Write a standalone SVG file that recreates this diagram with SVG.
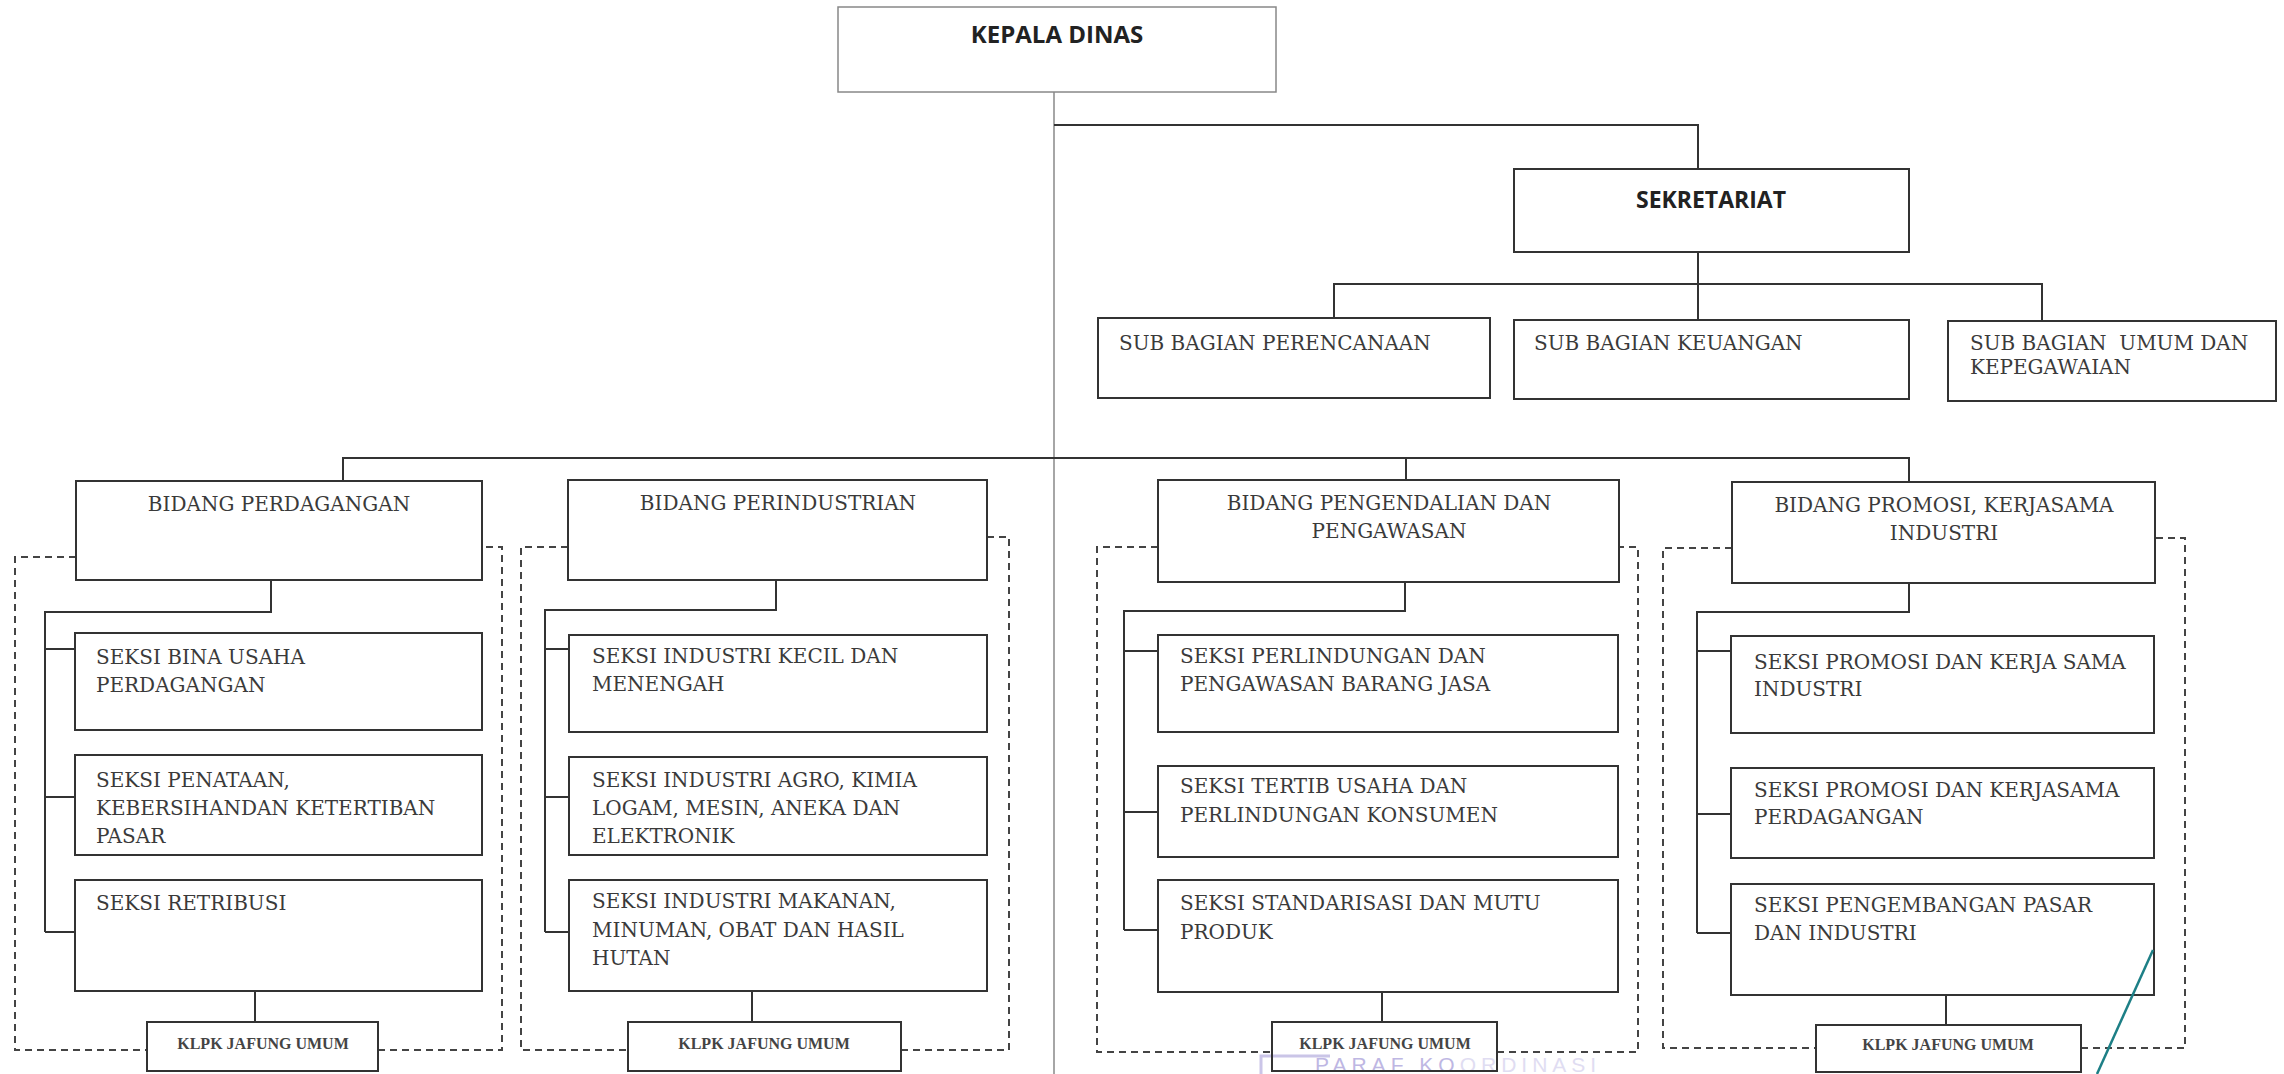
<svg xmlns="http://www.w3.org/2000/svg" width="2284" height="1074" viewBox="0 0 2284 1074">
<style>
.box{fill:#fff;stroke:#333;stroke-width:2}
.top{fill:#fff;stroke:#888;stroke-width:1.5}
.conn{fill:none;stroke:#333;stroke-width:2}
.main{fill:none;stroke:#888;stroke-width:1.5}
.dash{fill:none;stroke:#444;stroke-width:2;stroke-dasharray:7 5}
.t{font-family:"DejaVu Serif","Liberation Serif",serif;font-size:20px;fill:#3a3a3a}
.c{text-anchor:middle}
.h{font-family:"Open Sans","Liberation Sans",sans-serif;font-weight:bold;fill:#222;text-anchor:middle}
.k{font-family:"Liberation Serif","DejaVu Serif",serif;font-weight:bold;font-size:16px;fill:#444;text-anchor:middle}
</style>
<rect width="2284" height="1074" fill="#fff"/>

<g id="connectors">
  <path class="main" d="M1054,92 V1074"/>
  <path class="conn" d="M1054,125 H1698 V169"/>
  <path class="conn" d="M1698,252 V320 M1334,318 V284 H2042 V321"/>
  <path class="conn" d="M343,481 V458 H1909 V482 M1406,458 V480"/>
  <!-- group 1 -->
  <path class="conn" d="M271,580 V612 H45 V932 M45,649 H75 M45,797 H75 M45,932 H75 M255,991 V1022"/>
  <path class="dash" d="M76,557 H15 V1050 H147 M378,1050 H502 V547 H482"/>
  <!-- group 2 -->
  <path class="conn" d="M776,580 V610 H545 V932 M545,649 H569 M545,797 H569 M545,932 H569 M752,991 V1022"/>
  <path class="dash" d="M568,547 H521 V1050 H628 M901,1050 H1009 V537 H987"/>
  <!-- group 3 -->
  <path class="conn" d="M1405,582 V611 H1124 V930 M1124,651 H1158 M1124,812 H1158 M1124,930 H1158 M1382,992 V1022"/>
  <path class="dash" d="M1158,547 H1097 V1052 H1272 M1497,1052 H1638 V547 H1619"/>
  <!-- group 4 -->
  <path class="conn" d="M1909,583 V612 H1697 V933 M1697,651 H1731 M1697,814 H1731 M1697,933 H1731 M1946,995 V1025"/>
  <path class="dash" d="M1732,548 H1663 V1048 H1816 M2081,1048 H2185 V538 H2155"/>
</g>

<g id="kepala-dinas">
  <rect class="top" x="838" y="7" width="438" height="85"/>
  <text class="h" x="1057" y="43" font-size="24">KEPALA DINAS</text>
</g>
<g id="sekretariat">
  <rect class="box" x="1514" y="169" width="395" height="83"/>
  <text class="h" x="1711" y="208" font-size="23">SEKRETARIAT</text>
</g>
<g id="sub-perencanaan">
  <rect class="box" x="1098" y="318" width="392" height="80"/>
  <text class="t" x="1119" y="350">SUB BAGIAN PERENCANAAN</text>
</g>
<g id="sub-keuangan">
  <rect class="box" x="1514" y="320" width="395" height="79"/>
  <text class="t" x="1534" y="350">SUB BAGIAN KEUANGAN</text>
</g>
<g id="sub-umum">
  <rect class="box" x="1948" y="321" width="328" height="80"/>
  <text class="t" x="1970" y="350" style="white-space:pre">SUB BAGIAN  UMUM DAN</text>
  <text class="t" x="1970" y="374">KEPEGAWAIAN</text>
</g>

<!-- Group 1 -->
<g id="bidang-perdagangan">
  <rect class="box" x="76" y="481" width="406" height="99"/>
  <text class="t c" x="279" y="511">BIDANG PERDAGANGAN</text>
</g>
<g id="seksi-bina-usaha">
  <rect class="box" x="75" y="633" width="407" height="97"/>
  <text class="t" x="96" y="664">SEKSI BINA USAHA</text>
  <text class="t" x="96" y="692">PERDAGANGAN</text>
</g>
<g id="seksi-penataan">
  <rect class="box" x="75" y="755" width="407" height="100"/>
  <text class="t" x="96" y="787">SEKSI PENATAAN,</text>
  <text class="t" x="96" y="815">KEBERSIHANDAN KETERTIBAN</text>
  <text class="t" x="96" y="843">PASAR</text>
</g>
<g id="seksi-retribusi">
  <rect class="box" x="75" y="880" width="407" height="111"/>
  <text class="t" x="96" y="910">SEKSI RETRIBUSI</text>
</g>
<g id="klpk-1">
  <rect class="box" x="147" y="1022" width="231" height="49"/>
  <text class="k" x="263" y="1049">KLPK JAFUNG UMUM</text>
</g>

<!-- Group 2 -->
<g id="bidang-perindustrian">
  <rect class="box" x="568" y="480" width="419" height="100"/>
  <text class="t c" x="778" y="510">BIDANG PERINDUSTRIAN</text>
</g>
<g id="seksi-ikm">
  <rect class="box" x="569" y="635" width="418" height="97"/>
  <text class="t" x="592" y="663">SEKSI INDUSTRI KECIL DAN</text>
  <text class="t" x="592" y="691">MENENGAH</text>
</g>
<g id="seksi-agro">
  <rect class="box" x="569" y="757" width="418" height="98"/>
  <text class="t" x="592" y="787">SEKSI INDUSTRI AGRO, KIMIA</text>
  <text class="t" x="592" y="815">LOGAM, MESIN, ANEKA DAN</text>
  <text class="t" x="592" y="843">ELEKTRONIK</text>
</g>
<g id="seksi-makanan">
  <rect class="box" x="569" y="880" width="418" height="111"/>
  <text class="t" x="592" y="908">SEKSI INDUSTRI MAKANAN,</text>
  <text class="t" x="592" y="937">MINUMAN, OBAT DAN HASIL</text>
  <text class="t" x="592" y="965">HUTAN</text>
</g>
<g id="klpk-2">
  <rect class="box" x="628" y="1022" width="273" height="49"/>
  <text class="k" x="764" y="1049">KLPK JAFUNG UMUM</text>
</g>

<!-- Group 3 -->
<g id="bidang-pengendalian">
  <rect class="box" x="1158" y="480" width="461" height="102"/>
  <text class="t c" x="1389" y="510">BIDANG PENGENDALIAN DAN</text>
  <text class="t c" x="1389" y="538">PENGAWASAN</text>
</g>
<g id="seksi-perlindungan">
  <rect class="box" x="1158" y="635" width="460" height="97"/>
  <text class="t" x="1180" y="663">SEKSI PERLINDUNGAN DAN</text>
  <text class="t" x="1180" y="691">PENGAWASAN BARANG JASA</text>
</g>
<g id="seksi-tertib">
  <rect class="box" x="1158" y="766" width="460" height="91"/>
  <text class="t" x="1180" y="793">SEKSI TERTIB USAHA DAN</text>
  <text class="t" x="1180" y="822">PERLINDUNGAN KONSUMEN</text>
</g>
<g id="seksi-standarisasi">
  <rect class="box" x="1158" y="880" width="460" height="112"/>
  <text class="t" x="1180" y="910">SEKSI STANDARISASI DAN MUTU</text>
  <text class="t" x="1180" y="939">PRODUK</text>
</g>

<!-- stamp (partly under the KLPK box edge) -->
<g id="stamp" opacity="0.75">
  <path d="M1261,1074 V1056 H1330" fill="none" stroke="#b9b2e0" stroke-width="3"/>
  <text x="1315" y="1072" font-family="Liberation Sans, sans-serif" font-size="21" letter-spacing="5" fill="#a9a0da">PARAF KO<tspan fill="#d6d2ee">ORDINASI</tspan></text>
</g>

<g id="klpk-3">
  <rect x="1272" y="1022" width="225" height="49" fill="none" stroke="#333" stroke-width="2"/>
  <text class="k" x="1385" y="1049">KLPK JAFUNG UMUM</text>
</g>

<!-- Group 4 -->
<g id="bidang-promosi">
  <rect class="box" x="1732" y="482" width="423" height="101"/>
  <text class="t c" x="1944" y="512">BIDANG PROMOSI, KERJASAMA</text>
  <text class="t c" x="1944" y="540">INDUSTRI</text>
</g>
<g id="seksi-promosi-industri">
  <rect class="box" x="1731" y="636" width="423" height="97"/>
  <text class="t" x="1754" y="669">SEKSI PROMOSI DAN KERJA SAMA</text>
  <text class="t" x="1754" y="696">INDUSTRI</text>
</g>
<g id="seksi-promosi-perdagangan">
  <rect class="box" x="1731" y="768" width="423" height="90"/>
  <text class="t" x="1754" y="797">SEKSI PROMOSI DAN KERJASAMA</text>
  <text class="t" x="1754" y="824">PERDAGANGAN</text>
</g>
<g id="seksi-pengembangan">
  <rect class="box" x="1731" y="884" width="423" height="111"/>
  <text class="t" x="1754" y="912">SEKSI PENGEMBANGAN PASAR</text>
  <text class="t" x="1754" y="940">DAN INDUSTRI</text>
</g>
<g id="klpk-4">
  <rect class="box" x="1816" y="1025" width="265" height="47"/>
  <text class="k" x="1948" y="1050">KLPK JAFUNG UMUM</text>
</g>

<path id="pen-mark" d="M2153,950 Q2128,1005 2097,1074" fill="none" stroke="#1d7f86" stroke-width="2.5"/>
</svg>
